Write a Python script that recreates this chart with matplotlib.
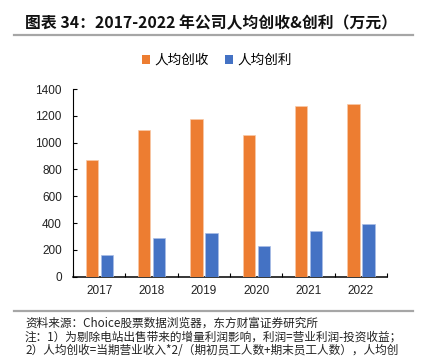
import matplotlib
matplotlib.use("Agg")
import matplotlib.pyplot as plt
from matplotlib.lines import Line2D
from matplotlib.patches import Patch
import numpy as np

years = ["2017", "2018", "2019", "2020", "2021", "2022"]
revenue_per_capita = [870, 1094, 1174, 1059, 1275, 1288]
profit_per_capita = [162, 291, 326, 229, 338, 393]
series_names = ["人均创收", "人均创利"]
y_ticks = [0, 200, 400, 600, 800, 1000, 1200, 1400]

title = "图表 34：2017-2022 年公司人均创收&创利（万元）"
footer_lines = [
    "资料来源：Choice股票数据浏览器，东方财富证券研究所",
    "注：1）为剔除电站出售带来的增量利润影响，利润=营业利润-投资收益；",
    "2）人均创收=当期营业收入*2/（期初员工人数+期末员工人数），人均创",
]

ORANGE = "#ED7D31"
BLUE = "#4472C4"
CJK = ["Noto Sans CJK SC", "DejaVu Sans"]
NUM = ["Liberation Sans", "DejaVu Sans"]

fig = plt.figure(figsize=(4.22, 3.58), dpi=100)
W, H = 422, 358

def fx(px):
    return px / W

def fy(py):
    return 1 - py / H

ax = fig.add_axes([fx(73), fy(276.7), fx(387) - fx(73), fy(89) - fy(276.7)])

x = np.arange(len(years))
bw = 0.235
ax.bar(x - 0.142, revenue_per_capita, width=bw, color=ORANGE,
       edgecolor="#F8C9A8", linewidth=0.5, zorder=3)
ax.bar(x + 0.148, profit_per_capita, width=bw, color=BLUE,
       edgecolor="#A9BDE6", linewidth=0.5, zorder=3)

ax.set_xlim(-0.5, len(years) - 0.5)
ax.set_ylim(0, 1400)
ax.set_yticks(y_ticks)
ax.set_yticklabels([str(v) for v in y_ticks], fontsize=8.5, family=NUM, color="#222222")
ax.tick_params(axis="y", direction="in", length=3, width=0.8, pad=8)

ax.set_xticks(np.arange(-0.5, len(years), 1.0))
ax.set_xticklabels([])
ax.tick_params(axis="x", which="major", direction="in", length=3, width=0.8)
ax.set_xticks(x, minor=True)
ax.set_xticklabels(years, minor=True, fontsize=8.5, family=NUM, color="#222222")
ax.tick_params(axis="x", which="minor", length=0, pad=6)

for s in ["top", "right"]:
    ax.spines[s].set_visible(False)
ax.spines["left"].set_linewidth(0.8)
ax.spines["bottom"].set_linewidth(1.1)

# Title
fig.text(fx(211), fy(23), title, ha="center", va="center",
         fontsize=11.4, fontweight="bold", family=CJK, color="#111111")
fig.add_artist(Line2D([fx(14), fx(413)], [fy(35), fy(35)], color="#A6A6A6", linewidth=1.6))

# Legend
handles = [Patch(facecolor=ORANGE, edgecolor="none"), Patch(facecolor=BLUE, edgecolor="none")]
leg = fig.legend(handles, series_names, loc="center", bbox_to_anchor=(fx(217), fy(60)),
                 ncol=2, frameon=False, handlelength=0.6, handleheight=0.6,
                 handletextpad=0.3, columnspacing=1.2,
                 prop={"family": CJK, "size": 9.8})

# Footer
fig.add_artist(Line2D([fx(14), fx(413)], [fy(311), fy(311)], color="#A6A6A6", linewidth=1.6))
for i, line in enumerate(footer_lines):
    fig.text(fx(25), fy(323 + 13.5 * i), line, ha="left", va="center",
             fontsize=8.4, family=CJK, color="#222222")

fig.savefig("out.png", dpi=100)
